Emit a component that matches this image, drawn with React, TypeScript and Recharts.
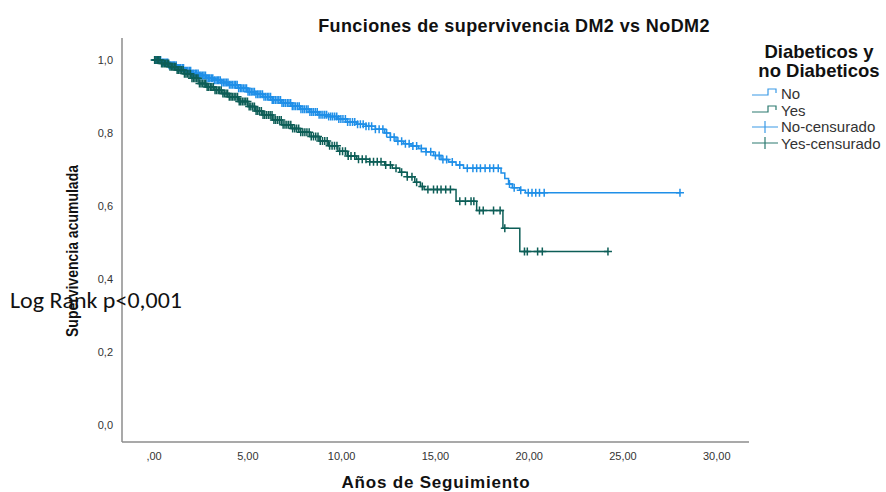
import { ComposedChart, Line, Scatter, XAxis, YAxis } from 'recharts';

// Kaplan-Meier estimates: event times (years) and survival after each event
const noTimes = [
  0, 0.4, 0.8, 1.2, 1.6, 2.0, 2.4, 2.8, 3.2, 3.6, 4.0, 4.5, 5.0, 5.4, 5.8, 6.3, 6.8, 7.3, 7.8,
  8.3, 8.8, 9.3, 9.8, 10.3, 10.8, 11.3, 11.8, 12.3, 12.6, 12.9, 13.3, 13.7, 14.1, 14.5, 14.9,
  15.3, 15.7, 16.1, 16.5, 18.5, 18.7, 18.9, 19.1, 19.5, 19.8, 28.04,
];
const noSurv = [
  1.0, 0.993, 0.985, 0.978, 0.97, 0.963, 0.957, 0.95, 0.944, 0.938, 0.932, 0.922, 0.913, 0.906,
  0.899, 0.89, 0.882, 0.873, 0.865, 0.857, 0.85, 0.845, 0.838, 0.83, 0.824, 0.818, 0.81, 0.8,
  0.788, 0.777, 0.77, 0.764, 0.757, 0.748, 0.738, 0.727, 0.72, 0.712, 0.703, 0.69, 0.675, 0.66,
  0.65, 0.643, 0.636, 0.636,
];

const yesTimes = [
  0, 0.4, 0.8, 1.2, 1.6, 2.0, 2.4, 2.8, 3.2, 3.6, 4.0, 4.5, 5.0, 5.4, 5.8, 6.3, 6.8, 7.3, 7.8,
  8.3, 8.8, 9.3, 9.8, 10.3, 10.8, 11.5, 12.3, 12.7, 13.1, 13.5, 13.9, 14.2, 14.4, 16.1, 17.2,
  18.6, 19.5, 24.2,
];
const yesSurv = [
  1.0, 0.99, 0.981, 0.972, 0.962, 0.95, 0.935, 0.926, 0.917, 0.908, 0.899, 0.886, 0.872, 0.86,
  0.849, 0.835, 0.822, 0.812, 0.802, 0.79, 0.778, 0.765, 0.75, 0.737, 0.728, 0.721, 0.712,
  0.703, 0.692, 0.68, 0.665, 0.653, 0.645, 0.613, 0.587, 0.539, 0.475, 0.475,
];

// censored follow-up times (years)
const noCensorTimes = [
  0.05, 0.12, 0.2, 0.28, 0.35, 0.43, 0.5, 0.58, 0.66, 0.73, 0.8, 0.88, 0.96, 1.03, 1.1, 1.18,
  1.26, 1.33, 1.41, 1.5, 1.57, 1.65, 1.72, 1.8, 1.88, 1.95, 2.03, 2.11, 2.2, 2.27, 2.35, 2.43,
  2.5, 2.58, 2.66, 2.74, 2.82, 2.9, 2.97, 3.05, 3.13, 3.21, 3.3, 3.38, 3.45, 3.53, 3.61, 3.7,
  3.78, 3.86, 3.94, 4.02, 4.1, 4.18, 4.27, 4.35, 4.43, 4.51, 4.6, 4.68, 4.76, 4.85, 4.93, 5.01,
  5.1, 5.18, 5.27, 5.35, 5.43, 5.52, 5.6, 5.69, 5.78, 5.86, 5.95, 6.04, 6.12, 6.21, 6.3, 6.38,
  6.47, 6.56, 6.65, 6.74, 6.82, 6.91, 7.0, 7.1, 7.19, 7.28, 7.37, 7.46, 7.55, 7.65, 7.74, 7.83,
  7.93, 8.02, 8.12, 8.21, 8.31, 8.41, 8.5, 8.6, 8.7, 8.8, 8.9, 9.0, 9.1, 9.2, 9.31, 9.42, 9.52,
  9.63, 9.74, 9.85, 9.96, 10.07, 10.2, 10.32, 10.45, 10.58, 10.7, 10.85, 11.0, 11.15, 11.3,
  11.45, 11.6, 11.8, 12.0, 12.2, 12.4, 12.6, 12.8, 13.0, 13.2, 13.4, 13.6, 13.8, 14.0, 14.25,
  14.5, 14.75, 15.0, 15.2, 15.4, 15.6, 15.9, 16.3, 16.7, 17.0, 17.2, 17.4, 17.65, 17.9, 18.1,
  18.35, 18.95, 19.2, 19.55, 19.95, 20.15, 20.35, 20.55, 20.8, 28.04,
];
const yesCensorTimes = [
  0.03, 0.1, 0.17, 0.25, 0.32, 0.4, 0.47, 0.55, 0.62, 0.7, 0.78, 0.85, 0.93, 1.0, 1.08, 1.16,
  1.23, 1.31, 1.39, 1.47, 1.55, 1.62, 1.7, 1.78, 1.86, 1.94, 2.02, 2.1, 2.18, 2.26, 2.34, 2.42,
  2.5, 2.58, 2.67, 2.75, 2.83, 2.91, 3.0, 3.08, 3.16, 3.25, 3.33, 3.42, 3.5, 3.58, 3.67, 3.75,
  3.84, 3.92, 4.01, 4.1, 4.18, 4.27, 4.36, 4.45, 4.54, 4.62, 4.71, 4.8, 4.89, 4.98, 5.07, 5.16,
  5.26, 5.35, 5.44, 5.53, 5.62, 5.72, 5.81, 5.9, 6.0, 6.1, 6.19, 6.29, 6.39, 6.48, 6.58, 6.68,
  6.78, 6.88, 6.98, 7.08, 7.18, 7.29, 7.39, 7.5, 7.6, 7.71, 7.82, 7.93, 8.04, 8.15, 8.27, 8.38,
  8.5, 8.62, 8.74, 8.86, 8.98, 9.1, 9.23, 9.36, 9.49, 9.62, 9.75, 9.9, 10.05, 10.2, 10.35, 10.5,
  10.7, 10.9, 11.1, 11.3, 11.5, 11.7, 11.9, 12.1, 12.35, 12.6, 12.9, 13.2, 13.5, 13.75, 14.0,
  14.3, 14.6, 14.9, 15.1, 15.3, 15.55, 15.8, 16.3, 16.6, 16.9, 17.05, 17.35, 17.55, 18.1, 18.45,
  18.7, 19.75, 19.9, 20.45, 20.7, 24.2,
];

const xTicks = [0, 5, 10, 15, 20, 25, 30];
const yTicks = [0, 0.2, 0.4, 0.6, 0.8, 1.0];

const BLUE = '#1f8fe8';
const TEAL = '#0d5e57';
const FONT = '"Liberation Sans", Arial, sans-serif';

// value of the step curve at time t
function survivalAt(times: number[], surv: number[], t: number) {
  let s = surv[0];
  for (let i = 0; i < times.length; i++) {
    if (times[i] <= t) s = surv[i];
  }
  return s;
}

const noCurve = noTimes.map((t, i) => ({ t, s: noSurv[i] }));
const yesCurve = yesTimes.map((t, i) => ({ t, s: yesSurv[i] }));
const noCensored = noCensorTimes.map((t) => ({ t, s: survivalAt(noTimes, noSurv, t) }));
const yesCensored = yesCensorTimes.map((t) => ({ t, s: survivalAt(yesTimes, yesSurv, t) }));

const crossShape = (color: string) => (props: any) => {
  const { cx, cy } = props;
  return (
    <path
      d={`M${cx - 4},${cy}H${cx + 4}M${cx},${cy - 4}V${cy + 4}`}
      stroke={color}
      strokeWidth={1.5}
      fill="none"
    />
  );
};

const fmtX = (v: number) => (v === 0 ? ',00' : v.toFixed(2).replace('.', ','));
const fmtY = (v: number) => v.toFixed(1).replace('.', ',');

const legendItems = [
  { label: 'No', color: '#3a9ae6', kind: 'step' },
  { label: 'Yes', color: '#2c7a70', kind: 'step' },
  { label: 'No-censurado', color: '#3a9ae6', kind: 'cross' },
  { label: 'Yes-censurado', color: '#2c7a70', kind: 'cross' },
];

const KMLegend = () => (
  <div style={{ position: 'absolute', left: 743, top: 42, width: 152, fontFamily: FONT }}>
    <div
      style={{
        textAlign: 'center',
        fontWeight: 700,
        fontSize: 18.5,
        lineHeight: '19px',
        color: '#111',
      }}
    >
      Diabeticos y
      <br />
      no Diabeticos
    </div>
    <div style={{ marginTop: 5, marginLeft: 3 }}>
      {legendItems.map((it) => (
        <div key={it.label} style={{ display: 'flex', alignItems: 'center', height: 16.7 }}>
          <svg width={30} height={12} style={{ marginLeft: 6 }}>
            {it.kind === 'step' ? (
              <path d="M0,8H16V2H24V6" stroke={it.color} strokeWidth={1.2} fill="none" />
            ) : (
              <path d="M0,6H26M13,0V12" stroke={it.color} strokeWidth={1.2} fill="none" />
            )}
          </svg>
          <span style={{ fontSize: 15, color: '#333', marginLeft: -1 }}>{it.label}</span>
        </div>
      ))}
    </div>
  </div>
);

export default function App() {
  return (
    <div style={{ position: 'absolute', left: 0, top: 0, width: 886, height: 492, background: '#fff' }}>
      <ComposedChart
        width={886}
        height={492}
        margin={{ top: 38, right: 137, bottom: 20, left: 82 }}
      >
        <XAxis
          dataKey="t"
          type="number"
          domain={[-1.71, 31.72]}
          ticks={xTicks}
          tickFormatter={fmtX}
          allowDataOverflow
          height={30}
          tickLine={false}
          tickMargin={4}
          axisLine={{ stroke: '#8c8c8c', strokeWidth: 1.5 }}
          tick={{ fill: '#333', fontSize: 11, fontFamily: FONT }}
        />
        <YAxis
          dataKey="s"
          type="number"
          domain={[-0.047, 1.06]}
          ticks={yTicks}
          tickFormatter={fmtY}
          allowDataOverflow
          width={40}
          tickLine={false}
          tickMargin={3}
          axisLine={{ stroke: '#8c8c8c', strokeWidth: 1.5 }}
          tick={{ fill: '#333', fontSize: 11, fontFamily: FONT }}
        />
        <Line
          data={noCurve}
          dataKey="s"
          type="stepAfter"
          stroke={BLUE}
          strokeWidth={1.5}
          dot={false}
          activeDot={false}
          isAnimationActive={false}
        />
        <Line
          data={yesCurve}
          dataKey="s"
          type="stepAfter"
          stroke={TEAL}
          strokeWidth={1.5}
          dot={false}
          activeDot={false}
          isAnimationActive={false}
        />
        <Scatter data={noCensored} dataKey="s" shape={crossShape(BLUE)} isAnimationActive={false} />
        <Scatter data={yesCensored} dataKey="s" shape={crossShape(TEAL)} isAnimationActive={false} />
      </ComposedChart>

      <svg
        width={886}
        height={492}
        style={{ position: 'absolute', left: 0, top: 0, pointerEvents: 'none' }}
      >
        <text x={514} y={32} textAnchor="middle" fontFamily={FONT} fontWeight={700} fontSize={18} letterSpacing={0.4} fill="#111">
          Funciones de supervivencia DM2 vs NoDM2
        </text>
        <text x={436} y={488} textAnchor="middle" fontFamily={FONT} fontWeight={700} fontSize={17} letterSpacing={0.8} fill="#111">
          Años de Seguimiento
        </text>
        <text
          x={72}
          y={251}
          transform="rotate(-90 72 251)"
          textAnchor="middle"
          dominantBaseline="central"
          fontFamily={FONT}
          fontWeight={700}
          fontSize={17}
          textLength={172}
          lengthAdjust="spacingAndGlyphs"
          fill="#111"
        >
          Supervivencia acumulada
        </text>
        <text
          x={10}
          y={308}
          fontFamily='Carlito, Calibri, "Open Sans", sans-serif'
          fontSize={22}
          textLength={172}
          lengthAdjust="spacingAndGlyphs"
          fill="#111"
        >
          Log Rank p&lt;0,001
        </text>
      </svg>
      <KMLegend />
    </div>
  );
}
